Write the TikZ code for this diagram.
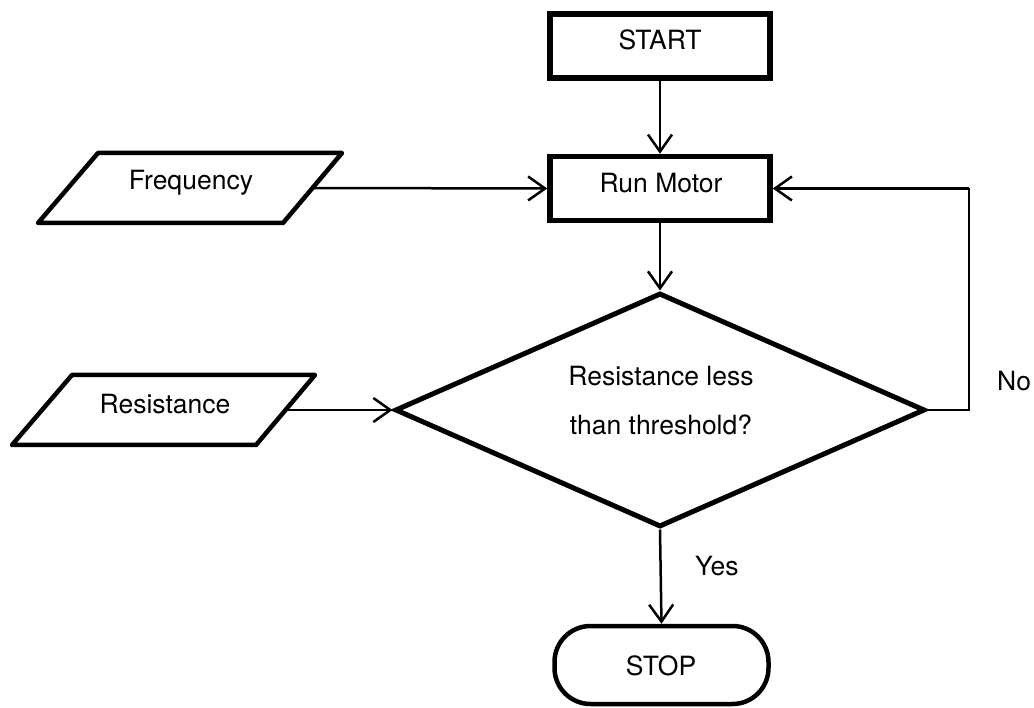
\documentclass[tikz,border=0pt]{standalone}
\usepackage{fontspec}
\setmainfont{TeX Gyre Heros}
\usetikzlibrary{shapes.geometric,arrows.meta}
\tikzset{
  every node/.style={font=\fontsize{26.5}{31}\selectfont},
  procbox/.style={draw, line width=5.5pt, minimum width=220pt, minimum height=64pt, inner sep=0pt},
  decision/.style={draw, diamond, line width=5pt, minimum width=530pt, minimum height=234pt, inner sep=0pt},
  termbox/.style={draw, line width=4.5pt, rounded corners=36pt, minimum width=214pt, minimum height=78pt, inner sep=0pt},
  iobox/.style={draw, line width=4.5pt, line join=round},
  conn/.style={line width=2.5pt, -{Straight Barb[length=17pt, width=24pt, line width=2.5pt]}},
  plainline/.style={line width=2.5pt},
  lbl/.style={inner sep=0pt, anchor=base}
}
\begin{document}
\begin{tikzpicture}[x=1pt,y=-1pt]
\useasboundingbox[fill=white] (0,0) rectangle (1034,708);
% process boxes
\node[procbox] (start) at (660,46) {};
\node[procbox] (run) at (660,188.5) {};
% decision
\node[decision] (dec) at (660,410) {};
% terminal
\node[termbox] (stop) at (661.5,665) {};
% input parallelograms
\draw[iobox] (98,153) -- (342,153) -- (283,223) -- (38,223) -- cycle;
\coordinate (freqR) at (312.5,188);
\draw[iobox] (72,375) -- (315,375) -- (256,445) -- (12,445) -- cycle;
\coordinate (resR) at (285.5,410);
% texts
\node[lbl] (startT) at (660,50) {START};
\node[lbl] (runT) at (661,193) {Run Motor};
\node[lbl] (decA) at (661,386) {Resistance less};
\node[lbl] (decB) at (661,435) {than threshold?};
\node[lbl] (stopT) at (661,675) {STOP};
\node[lbl] (freq) at (191,190) {Frequency};
\node[lbl] (res) at (165,414) {Resistance};
% connectors
\draw[conn] (start) -- (run);
\draw[conn] (run) -- (dec.north);
\draw[conn] (freqR) -- (run.west);
\draw[conn] (resR) -- (dec.west);
\draw[conn] (dec.south) -- (stop.north);
\coordinate (loopA) at (969,410);
\coordinate (loopB) at (969,188.5);
\draw[plainline] (dec.east) -- (loopA) -- (loopB);
\draw[conn] (loopB) -- (run.east);
% labels
\node[lbl, anchor=base west] (yes) at (695,575) {Yes};
\node[lbl, anchor=base west] (no) at (997,391) {No};
\end{tikzpicture}
\end{document}
